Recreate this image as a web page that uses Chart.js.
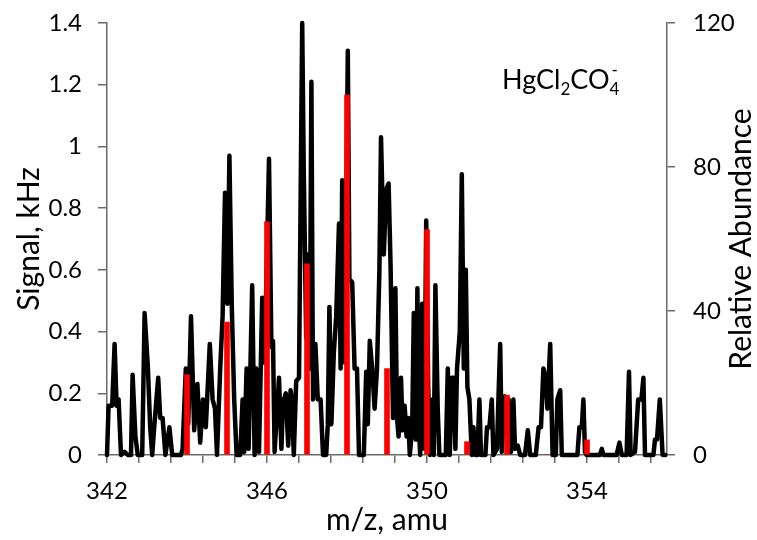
<!DOCTYPE html>
<html>
<head>
<meta charset="utf-8">
<script src="https://cdn.jsdelivr.net/npm/chart.js@4.4.0/dist/chart.umd.min.js"></script>
<style>
  html, body { margin: 0; padding: 0; background: #fff; }
  #wrap { width: 757px; height: 540px; }
</style>
</head>
<body>
<div id="wrap"><canvas id="grafico"></canvas></div>
<script>
// measured spectrum (m/z, signal in kHz)
let massScan = [342.00, 342.04, 342.13, 342.19, 342.24, 342.29, 342.35, 342.44, 342.52, 342.60, 342.64, 342.71, 342.77, 342.88, 342.94, 343.02, 343.08, 343.13, 343.18, 343.28, 343.33, 343.39, 343.46, 343.56, 343.63, 343.85, 343.89, 343.97, 344.03, 344.10, 344.18, 344.26, 344.33, 344.40, 344.47, 344.57, 344.64, 344.70, 344.75, 344.83, 344.89, 344.95, 345.01, 345.06, 345.12, 345.18, 345.24, 345.33, 345.39, 345.43, 345.49, 345.54, 345.63, 345.69, 345.73, 345.80, 345.88, 345.94, 346.05, 346.11, 346.15, 346.19, 346.30, 346.36, 346.40, 346.47, 346.53, 346.59, 346.62, 346.67, 346.73, 346.80, 346.88, 346.92, 346.98, 347.02, 347.07, 347.11, 347.15, 347.21, 347.27, 347.34, 347.40, 347.48, 347.52, 347.56, 347.61, 347.67, 347.73, 347.80, 347.84, 347.88, 347.94, 347.98, 348.02, 348.06, 348.13, 348.19, 348.25, 348.30, 348.42, 348.48, 348.52, 348.57, 348.63, 348.69, 348.75, 348.81, 348.85, 348.92, 348.98, 349.04, 349.09, 349.15, 349.21, 349.25, 349.29, 349.35, 349.39, 349.44, 349.49, 349.53, 349.57, 349.63, 349.67, 349.72, 349.76, 349.79, 349.83, 349.88, 349.93, 349.98, 350.03, 350.08, 350.14, 350.17, 350.21, 350.27, 350.31, 350.47, 350.52, 350.57, 350.62, 350.67, 350.71, 350.75, 350.82, 350.87, 350.92, 350.97, 351.01, 351.06, 351.12, 351.16, 351.21, 351.26, 351.31, 351.35, 351.46, 351.50, 351.56, 351.62, 351.66, 351.75, 351.79, 351.83, 351.87, 351.95, 352.04, 352.10, 352.16, 352.20, 352.27, 352.33, 352.45, 352.52, 352.58, 352.72, 352.79, 352.85, 352.91, 352.97, 353.01, 353.08, 353.14, 353.22, 353.26, 353.33, 353.37, 353.76, 353.81, 353.87, 353.91, 353.95, 353.99, 354.32, 354.37, 354.41, 354.74, 354.81, 354.87, 354.99, 355.05, 355.09, 355.20, 355.28, 355.36, 355.41, 355.45, 355.66, 355.70, 355.75, 355.82, 355.89, 355.96]
let signalKHz = [0, 0.16, 0.16, 0.36, 0.16, 0.18, 0, 0.01, 0, 0, 0.26, 0.06, 0, 0, 0.46, 0.29, 0.09, 0, 0.09, 0.25, 0.12, 0.12, 0, 0.09, 0, 0, 0.02, 0.28, 0.10, 0.45, 0.08, 0.23, 0.04, 0.18, 0.09, 0.36, 0.18, 0.15, 0, 0.28, 0.45, 0.85, 0.49, 0.97, 0.48, 0.18, 0, 0, 0.18, 0.01, 0.28, 0.02, 0.55, 0, 0.28, 0.01, 0.51, 0.30, 0.96, 0.35, 0.37, 0.01, 0.25, 0.02, 0.17, 0.20, 0.03, 0.21, 0.18, 0, 0.24, 0.25, 1.40, 0.91, 0.38, 0.65, 0.28, 1.21, 0.18, 0.36, 0.18, 0.18, 0, 0, 0.10, 0.48, 0.10, 0.33, 0.45, 0.75, 0.28, 0.89, 0.30, 0.75, 1.31, 0.57, 0.56, 0.28, 0.28, 0, 0, 0.27, 0.10, 0.37, 0.28, 0.15, 0.28, 0.60, 1.03, 0.65, 0.86, 0.88, 0.61, 0.12, 0.54, 0.12, 0.06, 0.25, 0.08, 0.16, 0.06, 0.12, 0, 0.09, 0.46, 0.05, 0.54, 0.11, 0, 0.49, 0.02, 0.76, 0.22, 0, 0.18, 0, 0.55, 0.14, 0, 0, 0.28, 0, 0.25, 0.25, 0.02, 0.28, 0.40, 0.91, 0.28, 0.60, 0.22, 0.18, 0, 0.09, 0, 0, 0.18, 0, 0, 0.09, 0.09, 0.18, 0, 0.02, 0.20, 0.36, 0.01, 0.19, 0.18, 0.01, 0.18, 0.02, 0.03, 0, 0, 0.08, 0, 0, 0.09, 0.09, 0.28, 0.25, 0.15, 0.36, 0, 0, 0.18, 0.21, 0, 0, 0.09, 0.09, 0.18, 0.01, 0, 0, 0.02, 0, 0, 0.04, 0, 0, 0.27, 0, 0.01, 0.18, 0.18, 0.25, 0, 0, 0.05, 0.05, 0.18, 0, 0]

// calculated isotope pattern
let isotopeMass = [344, 345, 346, 347, 348, 349, 350, 351, 352, 353, 354]
let relAbundance = [22.3, 36.9, 64.8, 53.1, 100, 24, 62.6, 3.7, 16.6, 0, 4.2]

// axis ticks
let xTicks = [342, 342.8, 343.6, 344.4, 345.2, 346, 346.8, 347.6, 348.4, 349.2, 350, 350.8, 351.6, 352.4, 353.2, 354, 354.8, 355.6]
let xLabels = [342, 346, 350, 354]
let signalTicks = [0, 0.2, 0.4, 0.6, 0.8, 1, 1.2, 1.4]
let abundanceTicks = [0, 40, 80, 120]

Chart.defaults.font.family = 'Lato'
Chart.defaults.font.size = 24
Chart.defaults.color = '#000'

let corEixo = '#6b6b6b'
let fonteTitulo = { size: 30 }

// species label with sub/superscripts, and right axis title reading upward
let rotulos = {
    id: 'rotulos',
    afterDraw(chart) {
        let ctx = chart.ctx
        let partes = [['HgCl', 0], ['2', 1], ['CO', 0], ['4', 1], ['-', 2]]
        let x = 502, base = 89
        ctx.save()
        ctx.fillStyle = '#000'
        ctx.textBaseline = 'alphabetic'
        partes.forEach(([txt, tipo]) => {
            let tam = tipo == 0 ? 27 : 17
            ctx.font = tam + 'px Lato'
            let y = base
            if (tipo == 1) y = base + 6
            if (tipo == 2) {
                y = base - 13
                x = x - ctx.measureText('4').width + 2
            }
            ctx.fillText(txt, x, y)
            x += ctx.measureText(txt).width
        })
        ctx.restore()

        let area = chart.chartArea
        ctx.save()
        ctx.font = '30px Lato'
        ctx.fillStyle = '#000'
        ctx.textAlign = 'center'
        ctx.textBaseline = 'middle'
        ctx.translate(741, (area.top + area.bottom) / 2)
        ctx.rotate(-Math.PI / 2)
        ctx.fillText('Relative Abundance', 0, 0)
        ctx.restore()
    }
}

let ctx = document.getElementById('grafico')
new Chart(ctx, {
    data: {
        datasets: [{
            type: 'bar',
            label: 'Relative Abundance',
            data: isotopeMass.map((m, i) => ({ x: m, y: relAbundance[i] })),
            backgroundColor: '#ff0000',
            barThickness: 5,
            yAxisID: 'y2',
            order: 0
        }, {
            type: 'line',
            label: 'Signal',
            data: massScan.map((m, i) => ({ x: m, y: signalKHz[i] })),
            borderColor: '#000',
            borderWidth: 4.5,
            borderJoinStyle: 'round',
            borderCapStyle: 'round',
            pointRadius: 0,
            tension: 0,
            clip: 6,
            yAxisID: 'y',
            order: 1
        }]
    },
    options: {
        responsive: true,
        maintainAspectRatio: false,
        animation: false,
        layout: { padding: { top: 23, left: 0, right: 0, bottom: 0 } },
        plugins: {
            legend: { display: false },
            tooltip: { enabled: false }
        },
        scales: {
            x: {
                type: 'linear',
                offset: false,
                min: 342,
                max: 356,
                afterBuildTicks: s => { s.ticks = xTicks.map(v => ({ value: v })) },
                afterFit: s => { s.height = 85 },
                ticks: {
                    autoSkip: false,
                    maxRotation: 0,
                    padding: 14,
                    callback: v => xLabels.some(l => Math.abs(l - v) < 1e-6) ? String(Math.round(v)) : ''
                },
                grid: { drawOnChartArea: false, offset: false, tickLength: 8, color: corEixo, lineWidth: 1.5 },
                border: { color: corEixo, width: 1.5 },
                title: { display: true, text: 'm/z, amu', font: fonteTitulo, padding: { top: 0, bottom: 2 } }
            },
            y: {
                position: 'left',
                min: 0,
                max: 1.4,
                afterBuildTicks: s => { s.ticks = signalTicks.map(v => ({ value: v })) },
                afterFit: s => { s.width = 107 },
                ticks: { padding: 16, font: { lineHeight: 0.4 }, callback: v => String(+v.toFixed(1)) },
                grid: { drawOnChartArea: false, tickLength: 9, color: corEixo, lineWidth: 1.5 },
                border: { color: corEixo, width: 1.5 },
                title: { display: true, text: 'Signal, kHz', font: fonteTitulo, padding: { top: 11, bottom: 0 } }
            },
            y2: {
                position: 'right',
                min: 0,
                max: 120,
                afterBuildTicks: s => { s.ticks = abundanceTicks.map(v => ({ value: v })) },
                afterFit: s => { s.width = 90 },
                ticks: { padding: 18, font: { lineHeight: 0.4 } },
                grid: { drawOnChartArea: false, tickLength: 8, color: corEixo, lineWidth: 1.5 },
                border: { color: corEixo, width: 1.5 },
                title: { display: false }
            }
        }
    },
    plugins: [rotulos]
})
</script>
</body>
</html>
